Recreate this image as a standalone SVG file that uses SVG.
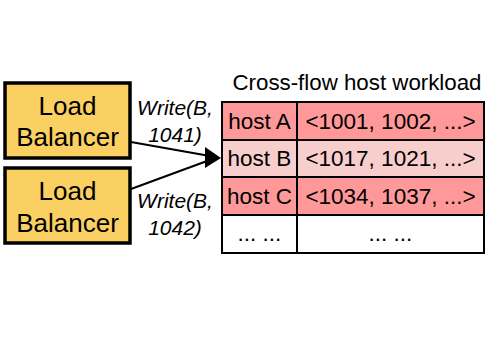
<svg xmlns="http://www.w3.org/2000/svg" width="498" height="345" viewBox="0 0 498 345">
<style>
text{font-family:"Liberation Sans",Arial,sans-serif;fill:#000}
.lb{fill:#FAD062;stroke:#000;stroke-width:3.5}
.lbt{font-size:26px;text-anchor:middle}
.lab{font-size:21px;font-style:italic;text-anchor:middle}
.cell{stroke:#000;stroke-width:2}
.tt{font-size:22.5px;text-anchor:middle}
.edge{stroke:#000;stroke-width:2;fill:none}
</style>
<rect width="498" height="345" fill="#fff"/>
<g id="lb1">
<rect class="lb" x="5" y="83" width="125" height="75"/>
<text class="lbt" x="67.5" y="115">Load</text>
<text class="lbt" x="67.5" y="146">Balancer</text>
</g>
<g id="lb2">
<rect class="lb" x="5" y="168" width="125" height="75"/>
<text class="lbt" x="67.5" y="200">Load</text>
<text class="lbt" x="67.5" y="232">Balancer</text>
</g>
<g id="connectors">
<path class="edge" d="M131,142 L207,155.5"/>
<path class="edge" d="M131,189 L207,161"/>
<path d="M205,147 L221,158 L205,168 z" fill="#000"/>
<text class="lab" x="175" y="115">Write(B,</text>
<text class="lab" x="175" y="142">1041)</text>
<text class="lab" x="175" y="208">Write(B,</text>
<text class="lab" x="175" y="235">1042)</text>
</g>
<g id="table">
<text x="357" y="90" style="font-size:22.3px;text-anchor:middle">Cross-flow host workload</text>
<g id="rowA">
<rect class="cell" x="222" y="102" width="75" height="38" fill="#FF9999"/>
<rect class="cell" x="297" y="102" width="187" height="38" fill="#FF9999"/>
<text class="tt" x="259.5" y="129">host A</text>
<text class="tt" x="390.5" y="129">&lt;1001, 1002, ...&gt;</text>
</g>
<g id="rowB">
<rect class="cell" x="222" y="140" width="75" height="37" fill="#F8CECC"/>
<rect class="cell" x="297" y="140" width="187" height="37" fill="#F8CECC"/>
<text class="tt" x="259.5" y="166">host B</text>
<text class="tt" x="390.5" y="166">&lt;1017, 1021, ...&gt;</text>
</g>
<g id="rowC">
<rect class="cell" x="222" y="177" width="75" height="38" fill="#FF9999"/>
<rect class="cell" x="297" y="177" width="187" height="38" fill="#FF9999"/>
<text class="tt" x="259.5" y="204">host C</text>
<text class="tt" x="390.5" y="204">&lt;1034, 1037, ...&gt;</text>
</g>
<g id="rowD">
<rect class="cell" x="222" y="215" width="75" height="38" fill="#fff"/>
<rect class="cell" x="297" y="215" width="187" height="38" fill="#fff"/>
<text class="tt" x="259.5" y="241">... ...</text>
<text class="tt" x="390.5" y="241">... ...</text>
</g>
</g>
</svg>
